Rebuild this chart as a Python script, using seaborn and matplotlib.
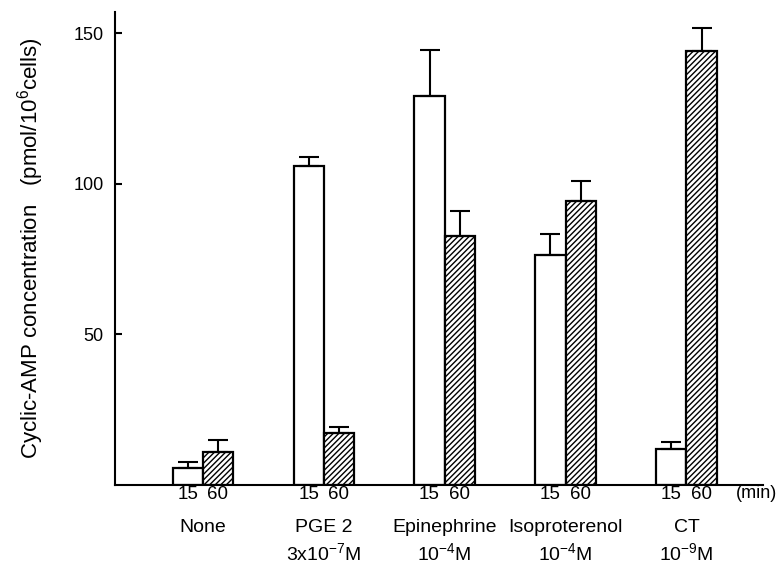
import numpy as np
import matplotlib
matplotlib.use("Agg")
import matplotlib.pyplot as plt
import pandas as pd
import seaborn as sns

# values (pmol/10^6 cells)
treatments = ["None", "PGE 2", "Epinephrine", "Isoproterenol", "CT"]
concentrations = ["", "3x10$^{-7}$M", "10$^{-4}$M", "10$^{-4}$M", "10$^{-9}$M"]
times = ["15", "60"]
camp_15 = [5.7, 106, 129, 76.3, 12]
camp_60 = [11, 17.3, 82.7, 94.4, 144]
err_15 = [2.0, 2.7, 15.5, 7.0, 2.3]
err_60 = [4.0, 2.0, 8.3, 6.6, 7.7]

df = pd.DataFrame({
    "treatment": treatments * 2,
    "time": [times[0]] * len(treatments) + [times[1]] * len(treatments),
    "camp": camp_15 + camp_60,
})

# black text and axes like the printed figure
sns.set_style("ticks", {"text.color": "black", "axes.labelcolor": "black",
                        "xtick.color": "black", "ytick.color": "black",
                        "axes.edgecolor": "black"})
plt.rcParams["font.family"] = ["Liberation Sans", "DejaVu Sans"]
plt.rcParams["mathtext.fontset"] = "custom"
plt.rcParams["mathtext.rm"] = "Liberation Sans"
plt.rcParams["mathtext.it"] = "Liberation Sans"

fig = plt.figure(figsize=(7.79, 5.67), dpi=100)
ax = fig.add_axes([0.1476, 0.1446, 0.8314, 0.8344])

sns.barplot(data=df, x="treatment", y="camp", hue="time", order=treatments,
            hue_order=times, palette=["white", "white"], edgecolor="black",
            linewidth=1.6, width=0.5, errorbar=None, legend=False, ax=ax)

plt.rcParams["hatch.linewidth"] = 1.0
n = len(treatments)
errs = err_15 + err_60
xcenters = []
for i, bar in enumerate(ax.patches[:2 * n]):
    if i >= n:
        bar.set_hatch("//////")
    cx = bar.get_x() + bar.get_width() / 2
    xcenters.append(cx)
    ax.errorbar(cx, bar.get_height(), yerr=[[0], [errs[i]]], fmt="none",
                ecolor="black", elinewidth=1.5, capsize=7, capthick=1.5, zorder=1)

ax.set_xlim(-0.727, 4.63)
ax.set_ylim(0, 157)
ax.set_yticks([50, 100, 150])
ax.tick_params(axis="y", direction="in", length=5, width=1.5, labelsize=13, pad=8)
ax.set_xticks(sorted(xcenters))
ax.set_xticklabels(times * n, fontsize=13.5)
ax.tick_params(axis="x", length=0, pad=1)
ax.set_xlabel("")
ax.set_ylabel("Cyclic-AMP concentration   (pmol/10$^6$cells)", fontsize=16, labelpad=20)
sns.despine(ax=ax)
for s in ["left", "bottom"]:
    ax.spines[s].set_linewidth(1.5)

trans = ax.get_xaxis_transform()
for i, (t, c) in enumerate(zip(treatments, concentrations)):
    ax.text(i, -0.089, t, transform=trans, ha="center", va="center", fontsize=14)
    ax.text(i, -0.144, c, transform=trans, ha="center", va="center", fontsize=14)
ax.text(4.58, -0.017, "(min)", transform=trans, ha="center", va="center", fontsize=13)

fig.savefig("out.png", dpi=100)
